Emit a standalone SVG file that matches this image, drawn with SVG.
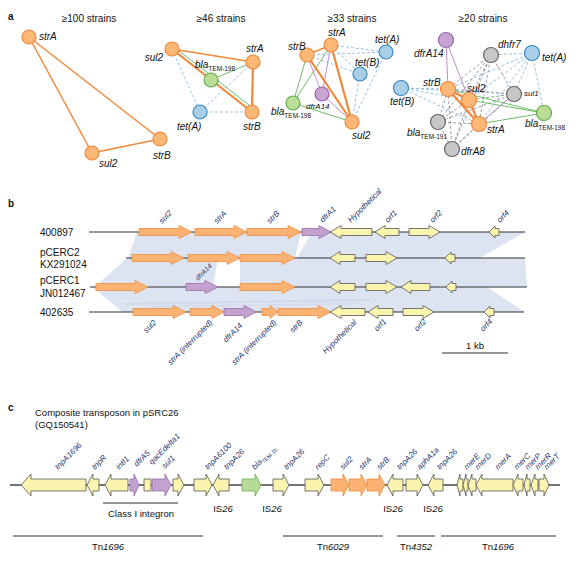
<svg xmlns="http://www.w3.org/2000/svg" width="578" height="562" viewBox="0 0 578 562">
<style>
text{font-family:"Liberation Sans",Arial,sans-serif;fill:#111}
.pl{font-size:10px;font-weight:bold}
.ti{font-size:10px;text-anchor:middle}
.nl{font-size:10px;font-style:italic}
.sub{font-size:6.5px;font-style:normal}
.sm{font-size:8px;font-style:italic}
.gl{font-size:8px;font-style:italic;fill:#28366c}
.rl{font-size:10px}
.cl{font-size:9.5px}
.it{font-style:italic}
.o{fill:#FBB374;stroke:#F08C3E;stroke-width:.8}
.y{fill:#FAF4AE;stroke:#555;stroke-width:.8}
.p{fill:#C3A2CF;stroke:#9A6AAE;stroke-width:.8}
.gr{fill:#B8DA98;stroke:#67B053;stroke-width:.8}
.no{fill:#FDB878;stroke:#F0883A;stroke-width:1.2}
.nb{fill:#A8CFE8;stroke:#3A88C2;stroke-width:1.2}
.ng{fill:#BCDD97;stroke:#5CAF4C;stroke-width:1.2}
.np{fill:#C6A5D3;stroke:#9A62AE;stroke-width:1.2}
.nk{fill:#C7C7C7;stroke:#666;stroke-width:1.2}
.eo{stroke:#F0883A;stroke-width:1.5;fill:none}
.et{stroke:#F0883A;stroke-width:2.2;fill:none}
.eg{stroke:#5DB35A;stroke-width:.9;fill:none}
.ep{stroke:#B681C9;stroke-width:.9;fill:none}
.eb{stroke:#7DB3DE;stroke-width:.8;stroke-dasharray:3 2;fill:none}
.ek{stroke:#888;stroke-width:.8;stroke-dasharray:3 2;fill:none}
.ln{stroke:#333;stroke-width:1.2;fill:none}
.sh{fill:#DCE4F2}
</style>

<!-- Panel a -->
<text class="pl" x="8" y="20">a</text>
<text class="ti" x="89" y="22">≥100 strains</text>
<text class="ti" x="221" y="22">≥46 strains</text>
<text class="ti" x="352" y="22">≥33 strains</text>
<text class="ti" x="483" y="22">≥20 strains</text>

<g id="connectors">
  <!-- net 1 -->
  <line class="eo" x1="29" y1="37" x2="92" y2="153"/>
  <line class="eo" x1="29" y1="37" x2="160" y2="139"/>
  <line class="eo" x1="92" y1="153" x2="160" y2="139"/>
  <!-- net 2 -->
  <line class="eb" x1="172" y1="49" x2="200" y2="112"/>
  <line class="eb" x1="200" y1="112" x2="253" y2="62"/>
  <line class="eb" x1="200" y1="112" x2="252" y2="112"/>
  <line class="eg" x1="174" y1="47" x2="213" y2="77"/>
  <line class="eg" x1="213" y1="77" x2="254" y2="109"/>
  <line class="eg" x1="211" y1="80" x2="253" y2="62"/>
  <line class="eo" x1="172" y1="49" x2="253" y2="62"/>
  <line class="et" x1="172" y1="49" x2="252" y2="112"/>
  <line class="et" x1="253" y1="62" x2="252" y2="112"/>
  <!-- net 3 -->
  <line class="eb" x1="331" y1="45" x2="386" y2="52"/>
  <line class="eb" x1="331" y1="45" x2="360" y2="74"/>
  <line class="eb" x1="307" y1="55" x2="386" y2="52"/>
  <line class="eb" x1="307" y1="55" x2="360" y2="74"/>
  <line class="eb" x1="386" y1="52" x2="352" y2="122"/>
  <line class="eb" x1="360" y1="74" x2="352" y2="122"/>
  <line class="eg" x1="307" y1="55" x2="293" y2="103"/>
  <line class="eg" x1="331" y1="45" x2="293" y2="103"/>
  <line class="eg" x1="293" y1="103" x2="352" y2="122"/>
  <line class="ep" x1="307" y1="55" x2="322" y2="94"/>
  <line class="ep" x1="331" y1="45" x2="322" y2="94"/>
  <line class="ep" x1="322" y1="94" x2="352" y2="122"/>
  <line class="eo" x1="307" y1="55" x2="331" y2="45"/>
  <line class="et" x1="331" y1="45" x2="352" y2="122"/>
  <line class="et" x1="307" y1="55" x2="352" y2="122"/>
  <!-- net 4 -->
  <line class="ek" x1="491" y1="55" x2="448" y2="89"/>
  <line class="ek" x1="491" y1="55" x2="469" y2="100"/>
  <line class="ek" x1="491" y1="55" x2="479" y2="124"/>
  <line class="ek" x1="491" y1="55" x2="514" y2="94"/>
  <line class="ek" x1="491" y1="55" x2="438" y2="122"/>
  <line class="ek" x1="491" y1="55" x2="452" y2="149"/>
  <line class="ek" x1="514" y1="94" x2="448" y2="89"/>
  <line class="ek" x1="514" y1="94" x2="469" y2="100"/>
  <line class="ek" x1="514" y1="94" x2="438" y2="122"/>
  <line class="ek" x1="514" y1="94" x2="452" y2="149"/>
  <line class="ek" x1="438" y1="122" x2="448" y2="89"/>
  <line class="ek" x1="438" y1="122" x2="469" y2="100"/>
  <line class="ek" x1="438" y1="122" x2="479" y2="124"/>
  <line class="ek" x1="438" y1="122" x2="452" y2="149"/>
  <line class="ek" x1="452" y1="149" x2="448" y2="89"/>
  <line class="ek" x1="452" y1="149" x2="469" y2="100"/>
  <line class="ek" x1="452" y1="149" x2="479" y2="124"/>
  <line class="eb" x1="532" y1="53" x2="491" y2="55"/>
  <line class="eb" x1="532" y1="53" x2="448" y2="89"/>
  <line class="eb" x1="532" y1="53" x2="469" y2="100"/>
  <line class="eb" x1="532" y1="53" x2="514" y2="94"/>
  <line class="eb" x1="532" y1="53" x2="479" y2="124"/>
  <line class="eb" x1="532" y1="53" x2="544" y2="113"/>
  <line class="eb" x1="401" y1="88" x2="448" y2="89"/>
  <line class="eb" x1="401" y1="88" x2="469" y2="100"/>
  <line class="eb" x1="401" y1="88" x2="479" y2="124"/>
  <line class="eb" x1="401" y1="88" x2="514" y2="94"/>
  <line class="eg" x1="448" y1="89" x2="544" y2="113"/>
  <line class="eg" x1="469" y1="100" x2="544" y2="113"/>
  <line class="eg" x1="479" y1="124" x2="544" y2="113"/>
  <line class="ep" x1="446" y1="40" x2="448" y2="89"/>
  <line class="ep" x1="446" y1="40" x2="469" y2="100"/>
  <line class="ep" x1="514" y1="94" x2="479" y2="124"/>
  <line class="et" x1="448" y1="89" x2="469" y2="100"/>
  <line class="et" x1="448" y1="89" x2="479" y2="124"/>
  <line class="et" x1="469" y1="100" x2="479" y2="124"/>
</g>

<!-- net 1 nodes -->
<g id="n1-strA"><circle class="no" cx="29" cy="37" r="7"/><text class="nl" x="39" y="40">strA</text></g>
<g id="n1-sul2"><circle class="no" cx="92" cy="153" r="7"/><text class="nl" x="99" y="167">sul2</text></g>
<g id="n1-strB"><circle class="no" cx="160" cy="139" r="7"/><text class="nl" x="153" y="159">strB</text></g>
<!-- net 2 nodes -->
<g id="n2-sul2"><circle class="no" cx="172" cy="49" r="7"/><text class="nl" x="163" y="61" text-anchor="end">sul2</text></g>
<g id="n2-strA"><circle class="no" cx="253" cy="62" r="7"/><text class="nl" x="246" y="52">strA</text></g>
<g id="n2-bla"><circle class="ng" cx="211" cy="80" r="7"/><text class="nl" x="195" y="68">bla<tspan class="sub" dy="2.5">TEM-198</tspan></text></g>
<g id="n2-tetA"><circle class="nb" cx="200" cy="112" r="7"/><text class="nl" x="177" y="130">tet(A)</text></g>
<g id="n2-strB"><circle class="no" cx="252" cy="112" r="7"/><text class="nl" x="243" y="130">strB</text></g>
<!-- net 3 nodes -->
<g id="n3-strA"><circle class="no" cx="331" cy="45" r="7"/><text class="nl" x="328" y="36">strA</text></g>
<g id="n3-strB"><circle class="no" cx="307" cy="55" r="7"/><text class="nl" x="288" y="50">strB</text></g>
<g id="n3-tetA"><circle class="nb" cx="386" cy="52" r="7"/><text class="nl" x="375" y="43">tet(A)</text></g>
<g id="n3-tetB"><circle class="nb" cx="360" cy="74" r="7"/><text class="nl" x="355" y="66">tet(B)</text></g>
<g id="n3-dfrA14"><circle class="np" cx="322" cy="94" r="7"/><text class="sm" x="306" y="109">dfrA14</text></g>
<g id="n3-bla"><circle class="ng" cx="293" cy="103" r="7"/><text class="nl" x="271" y="115">bla<tspan class="sub" dy="2.5">TEM-198</tspan></text></g>
<g id="n3-sul2"><circle class="no" cx="352" cy="122" r="7"/><text class="nl" x="352" y="139">sul2</text></g>
<!-- net 4 nodes -->
<g id="n4-dfrA14"><circle class="np" cx="446" cy="40" r="7.5"/><text class="nl" x="414" y="57">dfrA14</text></g>
<g id="n4-dhfr7"><circle class="nk" cx="491" cy="55" r="7.5"/><text class="nl" x="498" y="48">dhfr7</text></g>
<g id="n4-tetA"><circle class="nb" cx="532" cy="53" r="7.5"/><text class="nl" x="542" y="61">tet(A)</text></g>
<g id="n4-tetB"><circle class="nb" cx="401" cy="88" r="7.5"/><text class="nl" x="390" y="105">tet(B)</text></g>
<g id="n4-strB"><circle class="no" cx="448" cy="89" r="7.5"/><text class="nl" x="423" y="86">strB</text></g>
<g id="n4-sul1"><circle class="nk" cx="514" cy="94" r="7.5"/><text class="sm" x="524" y="96">sul1</text></g>
<g id="n4-sul2"><circle class="no" cx="469" cy="100" r="7.5"/><text class="nl" x="467" y="92">sul2</text></g>
<g id="n4-bla198"><circle class="ng" cx="544" cy="113" r="7.5"/><text class="nl" x="525" y="127">bla<tspan class="sub" dy="2.5">TEM-198</tspan></text></g>
<g id="n4-bla191"><circle class="nk" cx="438" cy="122" r="7.5"/><text class="nl" x="407" y="136">bla<tspan class="sub" dy="2.5">TEM-191</tspan></text></g>
<g id="n4-strA"><circle class="no" cx="479" cy="124" r="7.5"/><text class="nl" x="487" y="133">strA</text></g>
<g id="n4-dfrA8"><circle class="nk" cx="452" cy="149" r="7.5"/><text class="nl" x="461" y="155">dfrA8</text></g>

<!-- Panel b -->
<text class="pl" x="8" y="207">b</text>
<g id="b-shading">
  <polygon class="sh" points="137,232 301,232 295,258 128,258"/>
  <polygon class="sh" points="312,232 525,232 480,258 297,258"/>
  <polygon class="sh" points="127,258 218,258 213,287 95,287"/>
  <polygon class="sh" points="240,258 525,258 527,287 240,287"/>
  <polygon class="sh" points="92,287 487,287 525,312 123,312"/>
  <polygon points="125,303 370,299 370,300.5 125,305" fill="#C4CDDF" opacity="0.5"/>
  <polygon points="150,306 360,303 360,304 150,307.5" fill="#C4CDDF" opacity="0.4"/>
</g>
<g id="b-rows">
  <line class="ln" x1="89" y1="232" x2="525" y2="232"/>
  <line class="ln" x1="126" y1="258" x2="525" y2="258"/>
  <line class="ln" x1="90" y1="287" x2="527" y2="287"/>
  <line class="ln" x1="89" y1="312" x2="524" y2="312"/>
  <text class="rl" x="40" y="236">400897</text>
  <text class="rl" x="40" y="256">pCERC2</text>
  <text class="rl" x="40" y="268">KX291024</text>
  <text class="rl" x="40" y="284">pCERC1</text>
  <text class="rl" x="40" y="297">JN012467</text>
  <text class="rl" x="40" y="316">402635</text>
</g>
<!-- row 1 -->
<g id="b1-sul2"><path class="o" d="M139,228.5H179V225.5L192,232L179,238.5V235.5H139Z"/><text class="gl" transform="translate(162,224) rotate(-45)">sul2</text></g>
<g id="b1-strA"><path class="o" d="M195,228.5H234V225.5L247,232L234,238.5V235.5H195Z"/><text class="gl" transform="translate(217,224) rotate(-45)">strA</text></g>
<g id="b1-strB"><path class="o" d="M247,228.5H288V225.5L301,232L288,238.5V235.5H247Z"/><text class="gl" transform="translate(270,224) rotate(-45)">strB</text></g>
<g id="b1-dfrA1"><path class="p" d="M302,228.5H319V225.5L331,232L319,238.5V235.5H302Z"/><text class="gl" transform="translate(323,223) rotate(-45)">dfrA1</text></g>
<g id="b1-hyp"><path class="y" d="M372,228.5H341V225.5L330,232L341,238.5V235.5H372Z"/><text class="gl" transform="translate(351,223) rotate(-45)">Hypothetical</text></g>
<g id="b1-orf1"><path class="y" d="M399,228.5H385V225.5L375,232L385,238.5V235.5H399Z"/><text class="gl" transform="translate(388,223) rotate(-45)">orf1</text></g>
<g id="b1-orf2"><path class="y" d="M409,228.5H429V225.5L440,232L429,238.5V235.5H409Z"/><text class="gl" transform="translate(433,223) rotate(-45)">orf2</text></g>
<g id="b1-orf4"><path class="y" d="M499,228.5H495V226L489,232L495,238V235.5H499Z"/><text class="gl" transform="translate(500,223) rotate(-45)">orf4</text></g>
<!-- row 2 -->
<g id="b2-g1"><path class="o" d="M132,254.5H171V251.5L184,258L171,264.5V261.5H132Z"/></g>
<g id="b2-g2"><path class="o" d="M188,254.5H227V251.5L240,258L227,264.5V261.5H188Z"/></g>
<g id="b2-g3"><path class="o" d="M240,254.5H282V251.5L295,258L282,264.5V261.5H240Z"/></g>
<g id="b2-g4"><path class="y" d="M355,254.5H340V251.5L330,258L340,264.5V261.5H355Z"/></g>
<g id="b2-g5"><path class="y" d="M366,254.5H386V251.5L397,258L386,264.5V261.5H366Z"/></g>
<g id="b2-g6"><path class="y" d="M455,254.5H451V252L445,258L451,264V261.5H455Z"/></g>
<!-- row 3 -->
<g id="b3-g1"><path class="o" d="M96,283.5H135V280.5L148,287L135,293.5V290.5H96Z"/></g>
<g id="b3-dfrA14"><path class="p" d="M186,283.5H205V280.5L218,287L205,293.5V290.5H186Z"/><text class="gl" style="font-size:7px" transform="translate(198,281) rotate(-45)">dfrA14</text></g>
<g id="b3-g3"><path class="o" d="M240,283.5H282V280.5L295,287L282,293.5V290.5H240Z"/></g>
<g id="b3-g4"><path class="y" d="M355,283.5H340V280.5L330,287L340,293.5V290.5H355Z"/></g>
<g id="b3-g5"><path class="y" d="M366,283.5H386V280.5L397,287L386,293.5V290.5H366Z"/></g>
<g id="b3-g6"><path class="y" d="M430,283.5H411V280.5L401,287L411,293.5V290.5H430Z"/></g>
<g id="b3-g7"><path class="y" d="M456,283.5H452V281L446,287L452,293V290.5H456Z"/></g>
<!-- row 4 -->
<g id="b4-sul2"><path class="o" d="M133,308.5H173V305.5L186,312L173,318.5V315.5H133Z"/><text class="gl" text-anchor="end" transform="translate(157,323) rotate(-45)">sul2</text></g>
<g id="b4-strA1"><path class="o" d="M190,308.5H212V305.5L224,312L212,318.5V315.5H190Z"/><text class="gl" text-anchor="end" transform="translate(213,323) rotate(-45)">strA (interrupted)</text></g>
<g id="b4-dfrA14"><path class="p" d="M224,308.5H244V305.5L256,312L244,318.5V315.5H224Z"/><text class="gl" text-anchor="end" transform="translate(243,326) rotate(-45)">dfrA14</text></g>
<g id="b4-strA2"><path class="o" d="M262,308.5H270V305.5L278,312L270,318.5V315.5H262Z"/><text class="gl" text-anchor="end" transform="translate(277,323) rotate(-45)">strA (interrupted)</text></g>
<g id="b4-strB"><path class="o" d="M278,308.5H318V305.5L331,312L318,318.5V315.5H278Z"/><text class="gl" text-anchor="end" transform="translate(303,323) rotate(-45)">strB</text></g>
<g id="b4-hyp"><path class="y" d="M365,308.5H341V305.5L330,312L341,318.5V315.5H365Z"/><text class="gl" text-anchor="end" transform="translate(357,323) rotate(-45)">Hypothetical</text></g>
<g id="b4-orf1"><path class="y" d="M393,308.5H378V305.5L368,312L378,318.5V315.5H393Z"/><text class="gl" text-anchor="end" transform="translate(387,322) rotate(-45)">orf1</text></g>
<g id="b4-orf2"><path class="y" d="M403,308.5H423V305.5L434,312L423,318.5V315.5H403Z"/><text class="gl" text-anchor="end" transform="translate(427,322) rotate(-45)">orf2</text></g>
<g id="b4-orf4"><path class="y" d="M494,308.5H490V306L484,312L490,318V315.5H494Z"/><text class="gl" text-anchor="end" transform="translate(493,322) rotate(-45)">orf4</text></g>
<g id="b-scale"><line class="ln" x1="442" y1="353" x2="508" y2="353"/><text class="cl" x="475" y="349" text-anchor="middle">1 kb</text></g>

<!-- Panel c -->
<text class="pl" x="8" y="411">c</text>
<text class="cl" x="35" y="416">Composite transposon in pSRC26</text>
<text class="cl" x="35" y="428">(GQ150541)</text>
<line x1="10" y1="485" x2="560" y2="485" stroke="#444" stroke-width="1.5"/>
<g id="c-tnpA1696"><path class="y" d="M86,479H31V474L21,485L31,496V491H86Z"/><text class="gl" transform="translate(58,470) rotate(-45)">tnpA1696</text></g>
<g id="c-tnpR"><path class="y" d="M99,479H93V474L87,485L93,496V491H99Z"/><text class="gl" transform="translate(95,470) rotate(-45)">tnpR</text></g>
<g id="c-intI1"><path class="y" d="M128,479H111V474L105,485L111,496V491H128Z"/><text class="gl" transform="translate(119,470) rotate(-45)">intI1</text></g>
<g id="c-dfrA5"><path class="p" d="M130,479H134V474L139,485L134,496V491H130Z"/><text class="gl" transform="translate(137,467) rotate(-45)">dfrA5</text></g>
<g id="c-box"><path class="y" d="M144,479H151V491H144Z"/></g>
<g id="c-qac"><path class="p" d="M152,479H165V474L171,485L165,496V491H152Z"/><text class="gl" transform="translate(152,465) rotate(-45)">qacEdelta1</text></g>
<g id="c-sul1"><path class="y" d="M173,479H178V474L184,485L178,496V491H173Z"/><text class="gl" transform="translate(165,469) rotate(-45)">sul1</text></g>
<g id="c-tnpA6100"><path class="y" d="M194,479H206V474L212,485L206,496V491H194Z"/><text class="gl" transform="translate(208,470) rotate(-45)">tnpA6100</text></g>
<g id="c-tnpA26a"><path class="y" d="M229,479H219V474L213,485L219,496V491H229Z"/><text class="gl" transform="translate(227,470) rotate(-45)">tnpA26</text></g>
<g id="c-bla"><path class="gr" d="M242,479H255V474L261,485L255,496V491H242Z"/><text class="gl" transform="translate(255,470) rotate(-45)">bla<tspan style="font-size:5.5px;font-style:normal" dy="2">TEM-1b</tspan></text></g>
<g id="c-tnpA26b"><path class="y" d="M273,479H283V474L289,485L283,496V491H273Z"/><text class="gl" transform="translate(287,470) rotate(-45)">tnpA26</text></g>
<g id="c-repC"><path class="y" d="M305,479H318V474L324,485L318,496V491H305Z"/><text class="gl" transform="translate(318,470) rotate(-45)">repC</text></g>
<g id="c-sul2"><path class="o" d="M331,479H343V474L349,485L343,496V491H331Z"/><text class="gl" transform="translate(343,470) rotate(-45)">sul2</text></g>
<g id="c-strA"><path class="o" d="M349,479H361V474L367,485L361,496V491H349Z"/><text class="gl" transform="translate(362,470) rotate(-45)">strA</text></g>
<g id="c-strB"><path class="o" d="M367,479H379V474L385,485L379,496V491H367Z"/><text class="gl" transform="translate(380,470) rotate(-45)">strB</text></g>
<g id="c-tnpA26c"><path class="y" d="M403,479H393V474L387,485L393,496V491H403Z"/><text class="gl" transform="translate(400,470) rotate(-45)">tnpA26</text></g>
<g id="c-aphA1a"><path class="y" d="M406,479H417V474L423,485L417,496V491H406Z"/><text class="gl" transform="translate(420,470) rotate(-45)">aphA1a</text></g>
<g id="c-tnpA26d"><path class="y" d="M443,479H434V474L428,485L434,496V491H443Z"/><text class="gl" transform="translate(440,470) rotate(-45)">tnpA26</text></g>
<g id="c-mer1"><path class="y" d="M463,479H460V474L457,485L460,496V491H463Z"/></g>
<g id="c-merE"><path class="y" d="M468,479H466V474L463,485L466,496V491H468Z"/><text class="gl" transform="translate(467,470) rotate(-45)">merE</text></g>
<g id="c-merD"><path class="y" d="M476,479H472V474L468,485L472,496V491H476Z"/><text class="gl" transform="translate(478,470) rotate(-45)">merD</text></g>
<g id="c-merA"><path class="y" d="M513,479H482V474L476,485L482,496V491H513Z"/><text class="gl" transform="translate(498,470) rotate(-45)">merA</text></g>
<g id="c-merC"><path class="y" d="M523,479H518V474L513,485L518,496V491H523Z"/><text class="gl" transform="translate(517,470) rotate(-45)">merC</text></g>
<g id="c-merP"><path class="y" d="M530,479H527V474L524,485L527,496V491H530Z"/><text class="gl" transform="translate(528,470) rotate(-45)">merP</text></g>
<g id="c-merR"><path class="y" d="M538,479H535V474L531,485L535,496V491H538Z"/><text class="gl" transform="translate(538,470) rotate(-45)">merR</text></g>
<g id="c-merT"><path class="y" d="M539,479H544V474L549,485L544,496V491H539Z"/><text class="gl" transform="translate(547,470) rotate(-45)">merT</text></g>

<g id="c-annot">
  <line class="ln" x1="103" y1="503" x2="178" y2="503"/>
  <text class="cl" x="141" y="517" text-anchor="middle">Class I integron</text>
  <text class="cl" x="223" y="512" text-anchor="middle">IS<tspan class="it">26</tspan></text>
  <text class="cl" x="272" y="512" text-anchor="middle">IS<tspan class="it">26</tspan></text>
  <text class="cl" x="393" y="512" text-anchor="middle">IS<tspan class="it">26</tspan></text>
  <text class="cl" x="433" y="512" text-anchor="middle">IS<tspan class="it">26</tspan></text>
  <line class="ln" x1="13" y1="536" x2="203" y2="536"/>
  <line class="ln" x1="283" y1="536" x2="383" y2="536"/>
  <line class="ln" x1="397" y1="536" x2="435" y2="536"/>
  <line class="ln" x1="441" y1="536" x2="556" y2="536"/>
  <text class="cl" x="108" y="550" text-anchor="middle">Tn<tspan class="it">1696</tspan></text>
  <text class="cl" x="333" y="550" text-anchor="middle">Tn<tspan class="it">6029</tspan></text>
  <text class="cl" x="416" y="550" text-anchor="middle">Tn<tspan class="it">4352</tspan></text>
  <text class="cl" x="498" y="550" text-anchor="middle">Tn<tspan class="it">1696</tspan></text>
</g>
</svg>
